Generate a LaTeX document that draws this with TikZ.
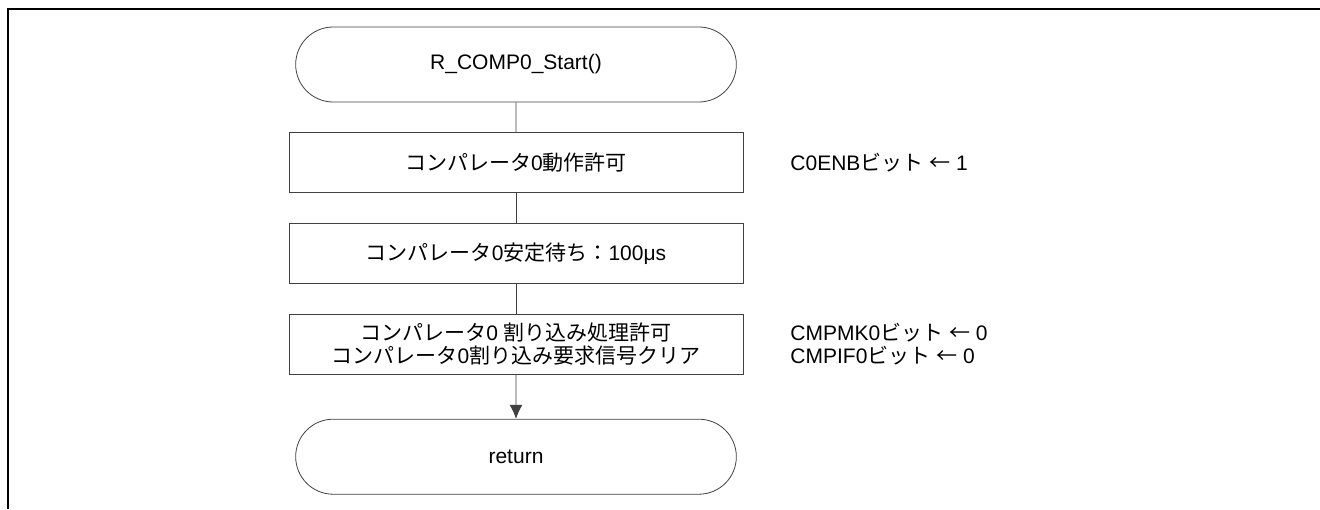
\documentclass[tikz,border=0pt]{standalone}
\usepackage{fontspec}
\setmainfont{Liberation Sans}
\newfontfamily\jpfont{Noto Sans CJK JP}
\newcommand{\jpt}[1]{{\jpfont #1}}
\usepackage{tikz}
\usetikzlibrary{shapes,arrows.meta}
\usetikzlibrary{positioning}
\tikzstyle{terminal} = [draw=black!75, rounded rectangle,
    minimum width=227pt, minimum height=37.5pt]
\tikzstyle{block} = [draw=black!75, rectangle, align=center,
    minimum width=227pt, minimum height=30pt]
\tikzstyle{note} = [align=left, anchor=west]
\tikzstyle{line} = [draw=black!75]

\begin{document}
\begin{tikzpicture}[node distance=15pt, >={Latex[length=7pt,width=6.5pt]},
    every node/.style={font=\fontsize{10.5pt}{11.5pt}\selectfont}]
    \useasboundingbox (0,0) rectangle (660pt,-254.5pt);
    % the frame round the figure
    \draw [line width=1.25pt] (4pt,-254.5pt) -- (4pt,-4.5pt) -- (660pt,-4.5pt);

    % We start by placing the blocks
    \node [terminal] (start) at (258pt,-32.25pt) {R\_COMP0\_Start()};
    \node [block, below=of start] (enable) {\jpt{コンパレータ}0\jpt{動作許可}};
    \node [block, below=of enable] (wait) {\jpt{コンパレータ}0\jpt{安定待ち：}100μs};
    \node [block, below=of wait] (intr) {\jpt{コンパレータ}0 \jpt{割り込み処理許可}\\
        \jpt{コンパレータ}0\jpt{割り込み要求信号クリア}};
    \node [terminal, below=22pt of intr] (ret) {return};

    % register settings next to the blocks
    \node [note, right=20pt of enable.east] (enablereg) {C0ENB\jpt{ビット} \jpt{←} 1};
    \node [note, right=20pt of intr.east] (intrreg) {CMPMK0\jpt{ビット} \jpt{←} 0\\
        CMPIF0\jpt{ビット} \jpt{←} 0};

    % Once the nodes are placed, connecting them is easy.
    \draw [line] (start) -- (enable);
    \draw [line] (enable) -- (wait);
    \draw [line] (wait) -- (intr);
    \draw [line,->] (intr) -- (ret);
\end{tikzpicture}
\end{document}
